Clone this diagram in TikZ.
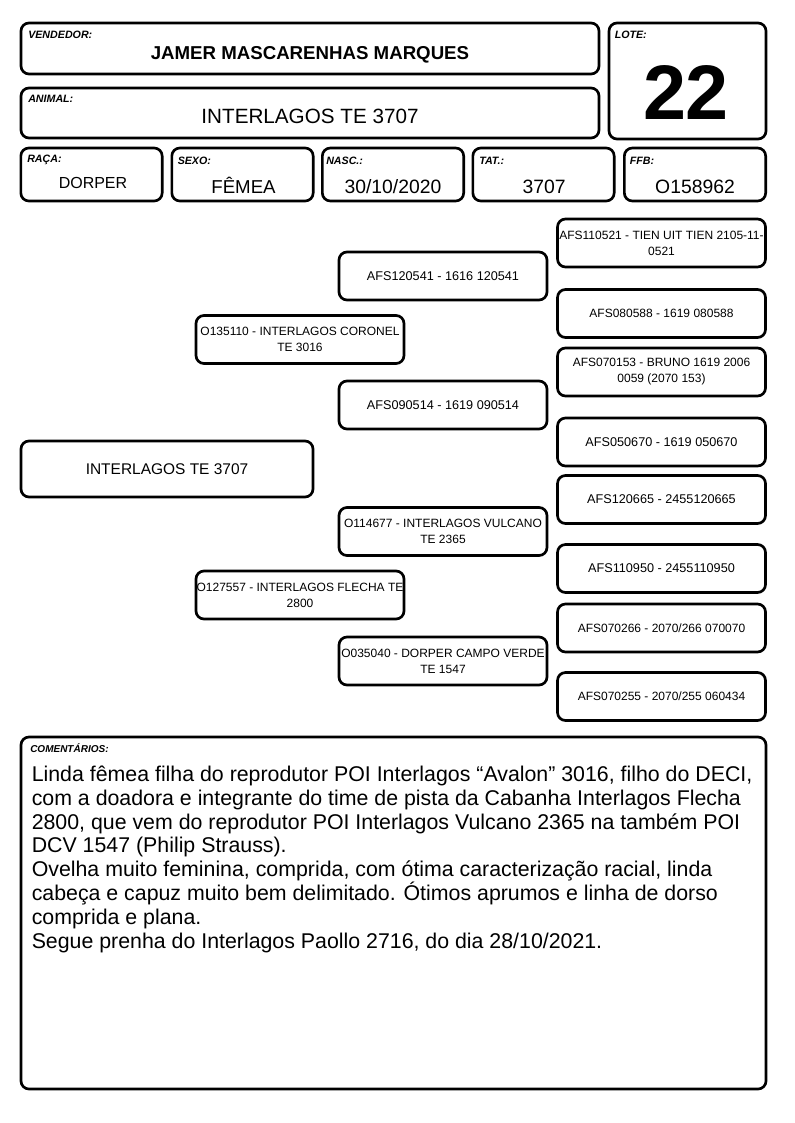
\documentclass[tikz,border=0pt]{standalone}
\usepackage{fontspec}
\setmainfont{Liberation Sans}
\usetikzlibrary{positioning}

\begin{document}
\begin{tikzpicture}[
    x=0.75pt, y=-0.75pt,
    field/.style={rectangle, rounded corners=6pt, draw=black, line width=2pt, inner sep=0pt},
    cell/.style={field, minimum width=106pt, minimum height=39.75pt},
    ped/.style={field, minimum width=156pt, minimum height=36pt, align=center, font=\fontsize{9}{12}\selectfont},
    tag/.style={anchor=base west, inner sep=0pt, font=\fontsize{8}{9}\selectfont\bfseries\itshape},
    val/.style={anchor=base, inner sep=0pt, font=\fontsize{14.5}{16}\selectfont}
]
\useasboundingbox (0,0) rectangle (794,1123);

% Header
\node[field, minimum width=433.5pt, minimum height=38.25pt] (vend) at (310,48.5) {};
\node[tag] (vendtag) at (28,39) {VENDEDOR:};
\node[val, font=\fontsize{14}{16}\selectfont\bfseries] (vendname) at (310,60) {JAMER MASCARENHAS MARQUES};

\node[field, minimum width=117.75pt, minimum height=87pt] (lote) at (687.5,81) {};
\node[tag] (lotetag) at (614.5,39) {LOTE:};
\node[val, font=\fontsize{58}{60}\selectfont\bfseries] (lotenum) at (686,120) {22};

\node[field, minimum width=433.5pt, minimum height=37.5pt] (animal) at (310,113) {};
\node[tag] (animaltag) at (28,103) {ANIMAL:};
\node[val, font=\fontsize{15.5}{17}\selectfont] (animalname) at (310,123.3) {INTERLAGOS TE 3707};

% Data row
\node[cell] (raca) at (91.5,174.5) {};
\node[tag] (racatag) at (27,163) {RAÇA:};
\node[val, font=\fontsize{12}{14}\selectfont] (racaval) at (93,188.3) {DORPER};

\node[cell] (sexo) at (242.5,174.5) {};
\node[tag] (sexotag) at (177.5,164.5) {SEXO:};
\node[val, font=\fontsize{14}{16}\selectfont] (sexoval) at (243.5,193.3) {FÊMEA};

\node[cell] (nasc) at (393,174.5) {};
\node[tag] (nasctag) at (326,164.5) {NASC.:};
\node[val] (nascval) at (393,193.3) {30/10/2020};

\node[cell] (tat) at (543.5,174.5) {};
\node[tag] (tattag) at (479,164.5) {TAT.:};
\node[val] (tatval) at (544,193.3) {3707};

\node[cell] (ffb) at (695,174.5) {};
\node[tag] (ffbtag) at (629.5,164.5) {FFB:};
\node[val] (ffbval) at (695,193.3) {O158962};

% Pedigree
\node[field, minimum width=219pt, minimum height=42pt, font=\fontsize{11.6}{13}\selectfont] (subj) at (167,469) {INTERLAGOS TE 3707};

\node[ped] (sire) at (300,339.5) {O135110 - INTERLAGOS CORONEL\\TE 3016};
\node[ped] (dam) at (300,595) {O127557 - INTERLAGOS FLECHA TE\\2800};

\node[ped, font=\fontsize{9.5}{12}\selectfont] (ss) at (443,276) {AFS120541 - 1616 120541};
\node[ped, font=\fontsize{9.5}{12}\selectfont] (sd) at (443,405) {AFS090514 - 1619 090514};
\node[ped] (ds) at (443,531.5) {O114677 - INTERLAGOS VULCANO\\TE 2365};
\node[ped] (dd) at (443,661) {O035040 - DORPER CAMPO VERDE\\TE 1547};

\node[ped] (sss) at (661.5,243) {AFS110521 - TIEN UIT TIEN 2105-11-\\0521};
\node[ped] (ssd) at (661.5,313.5) {AFS080588 - 1619 080588};
\node[ped] (sds) at (661.5,372) {AFS070153 - BRUNO 1619 2006\\0059 (2070 153)};
\node[ped, font=\fontsize{9.5}{12}\selectfont] (sdd) at (661.5,442) {AFS050670 - 1619 050670};
\node[ped, font=\fontsize{9.5}{12}\selectfont] (dss) at (661.5,499.5) {AFS120665 - 2455120665};
\node[ped, font=\fontsize{9.5}{12}\selectfont] (dsd) at (661.5,568.5) {AFS110950 - 2455110950};
\node[ped] (dds) at (661.5,628) {AFS070266 - 2070/266 070070};
\node[ped] (ddd) at (661.5,696.5) {AFS070255 - 2070/255 060434};

% Comments (base = last line)
\node[field, minimum width=558.75pt, minimum height=264pt] (coment) at (393.5,913) {};
\node[tag, font=\fontsize{7.5}{9}\selectfont\bfseries\itshape] (comenttag) at (30,752.7) {COMENTÁRIOS:};
\node[anchor=base west, inner sep=0pt, align=left, font=\fontsize{16}{17.85}\selectfont] (comenttext) at (31.5,948)
    {Linda fêmea filha do reprodutor POI Interlagos “Avalon” 3016, filho do DECI,\\
     com a doadora e integrante do time de pista da Cabanha Interlagos Flecha\\
     2800, que vem do reprodutor POI Interlagos Vulcano 2365 na também POI\\
     DCV 1547 (Philip Strauss).\\
     Ovelha muito feminina, comprida, com ótima caracterização racial, linda\\
     cabeça e capuz muito bem delimitado. Ótimos aprumos e linha de dorso\\
     comprida e plana.\\
     Segue prenha do Interlagos Paollo 2716, do dia 28/10/2021.};

\end{tikzpicture}
\end{document}
